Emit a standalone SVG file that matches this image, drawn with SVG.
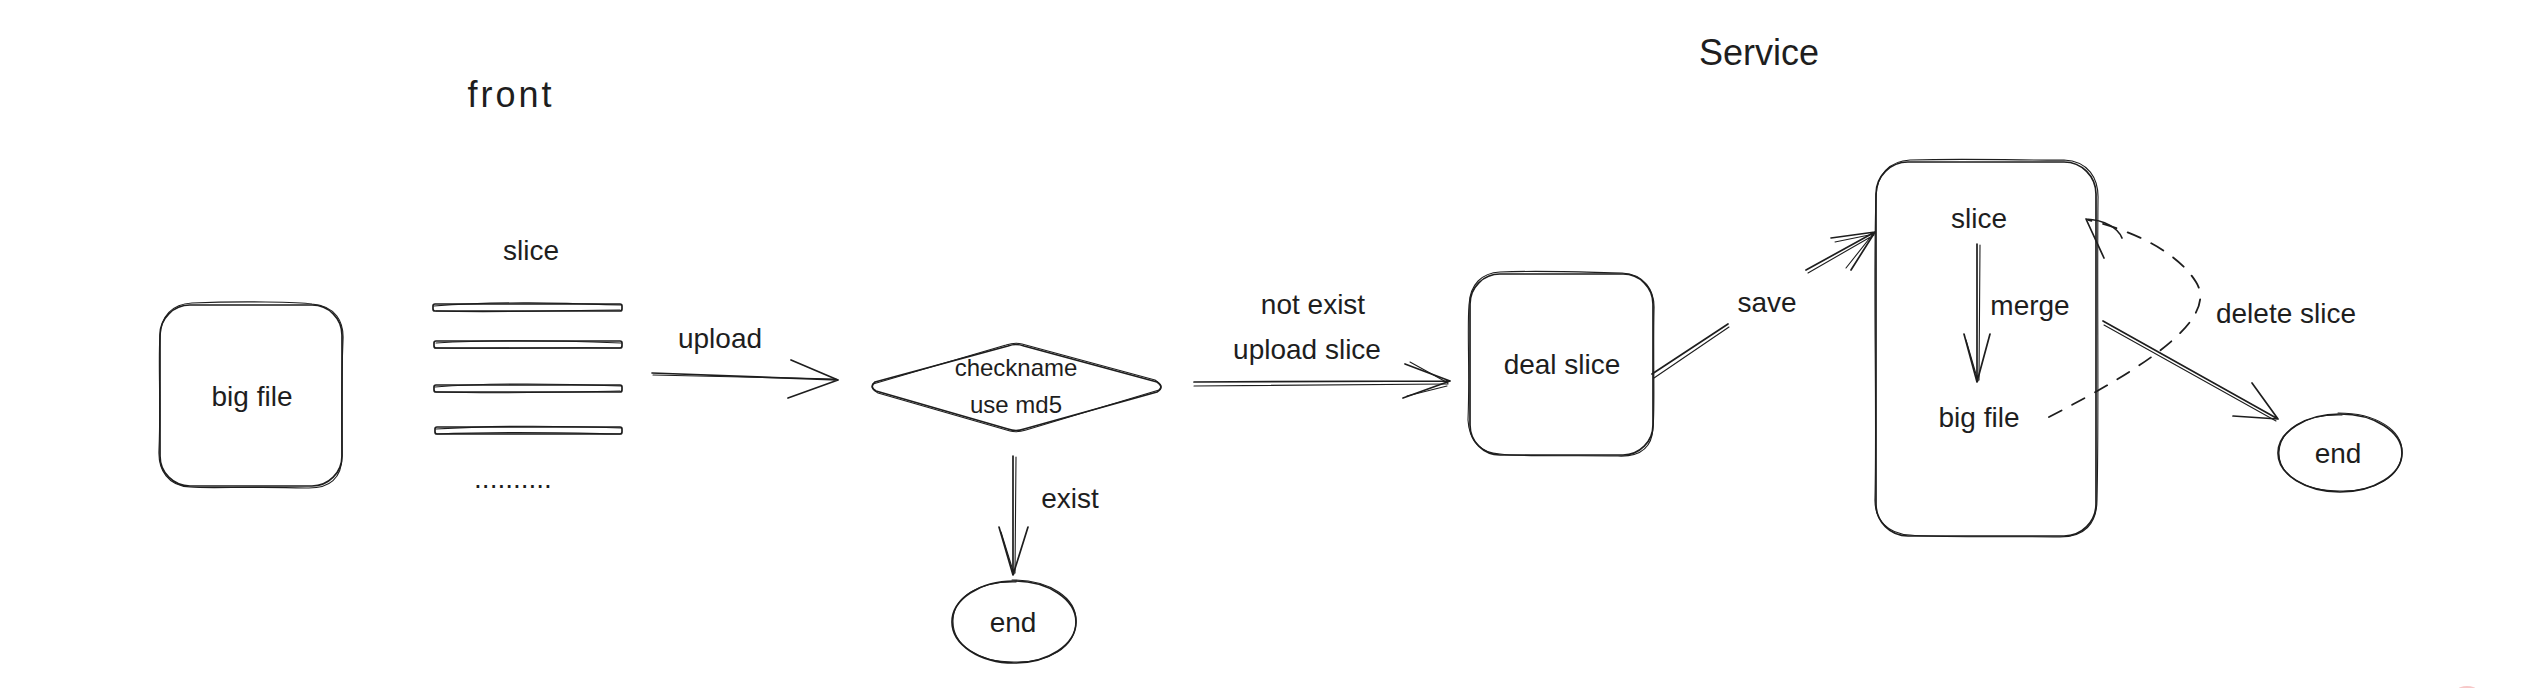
<svg xmlns="http://www.w3.org/2000/svg" width="2546" height="688" viewBox="0 0 2546 688">
<style>
.s{fill:none;stroke:#1e1e1e;stroke-width:1.7;stroke-linecap:round;stroke-linejoin:round}
.w{fill:none;stroke:#1e1e1e;stroke-width:1.1;stroke-linecap:round;stroke-linejoin:round}
.d{fill:none;stroke:#1e1e1e;stroke-width:1.8;stroke-dasharray:14 12;stroke-linecap:round}
text{font-family:"Liberation Sans",Arial,sans-serif;fill:#1e1e1e;text-anchor:middle;dominant-baseline:central}
.t{font-size:28px}
.h{font-size:36px}
.m{font-size:24px}
</style>
<rect width="2546" height="688" fill="#ffffff"/>

<g id="title-front"><text class="h" x="511" y="94" style="letter-spacing:3px">front</text></g>
<g id="title-service"><text class="h" x="1759" y="52">Service</text></g>

<g id="node-bigfile">
<rect class="s" x="160" y="305" width="182" height="181" rx="30"/>
<path class="w" d="M192,303 C240,301 300,302 312,304 C336,306 344,322 343,340 C341,390 342,440 342,456 C342,478 330,489 306,488 C250,486 210,489 190,487 C168,486 158,470 159,450 C161,400 158,360 160,336 C161,316 172,304 192,303 Z"/>
<text class="t" x="252" y="396">big file</text>
</g>

<g id="node-slices">
<text class="t" x="531" y="250">slice</text>
<rect class="s" x="433" y="304" width="189" height="7" rx="2"/>
<path class="w" d="M434,306 C500,301 560,303 621,305 M436,311 C500,313 570,310 620,310"/>
<rect class="s" x="434" y="341" width="188" height="7" rx="2"/>
<path class="w" d="M436,343 C500,339 570,341 621,343 M435,348 C510,349 570,347 620,348"/>
<rect class="s" x="434" y="385" width="188" height="7" rx="2"/>
<path class="w" d="M435,387 C500,382 570,384 621,386 M436,392 C510,394 570,392 620,391"/>
<rect class="s" x="435" y="427" width="187" height="7" rx="2"/>
<path class="w" d="M436,429 C500,425 570,426 621,428 M437,434 C510,431 570,433 620,434"/>
<text class="t" x="513" y="478">..........</text>
</g>

<g id="node-checkname">
<path class="s" d="M875,382 Q869,387 876,391 L1008,429 Q1016,432 1024,429 L1157,392 Q1165,387 1157,382 L1024,346 Q1016,343 1008,346 Z"/>
<path class="w" d="M873,384 Q870,389 878,393 L1010,431 Q1017,433 1026,430 L1159,390 Q1164,386 1155,380 L1022,344 Q1015,342 1006,345 Z"/>
<text class="m" x="1016" y="367">checkname</text>
<text class="m" x="1016" y="404">use md5</text>
</g>

<g id="node-end-left">
<ellipse class="s" cx="1014" cy="622" rx="62" ry="41"/>
<path class="w" d="M1012,580 C1050,580 1077,598 1076,622 C1075,648 1048,663 1014,662 C978,662 952,645 953,620 C954,596 980,581 1016,582"/>
<text class="t" x="1013" y="622">end</text>
</g>

<g id="node-dealslice">
<rect class="s" x="1470" y="274" width="183" height="181" rx="30"/>
<path class="w" d="M1500,272 C1550,270 1600,273 1622,273 C1644,274 1655,290 1654,310 C1653,360 1655,410 1653,428 C1652,448 1640,457 1618,456 C1570,455 1520,457 1500,454 C1480,453 1469,440 1468,420 C1470,370 1467,330 1469,305 C1470,284 1482,273 1500,272 Z"/>
<text class="t" x="1562" y="364">deal slice</text>
</g>

<g id="node-service-box">
<rect class="s" x="1876" y="162" width="220" height="374" rx="32"/>
<path class="w" d="M1910,160 C1980,158 2040,161 2064,160 C2088,161 2099,178 2098,200 C2097,300 2099,420 2097,500 C2097,524 2084,537 2060,537 C1990,536 1940,538 1910,535 C1888,534 1874,520 1875,498 C1877,400 1873,280 1876,196 C1877,174 1890,161 1910,160 Z"/>
<text class="t" x="1979" y="218">slice</text>
<text class="t" x="1979" y="417">big file</text>
</g>

<g id="node-end-right">
<ellipse class="s" cx="2340" cy="453" rx="62" ry="39"/>
<path class="w" d="M2338,413 C2376,413 2403,430 2402,453 C2401,477 2374,492 2340,491 C2304,491 2278,475 2279,452 C2280,429 2306,414 2342,415"/>
<text class="t" x="2338" y="453">end</text>
</g>

<g id="connectors">
<path class="s" d="M652,373 L838,380 M838,380 L791,360 M838,380 L788,398"/>
<path class="w" d="M653,375 L836,379"/>
<text class="t" x="720" y="338">upload</text>
<path class="s" d="M1013,456 L1013,575 M1013,575 L999,527 M1013,575 L1028,527"/>
<path class="w" d="M1016,457 L1015,573 M1014,574 L1001,532"/>
<text class="t" x="1070" y="498">exist</text>
<path class="s" d="M1194,382 L1450,381 M1450,381 L1405,364 M1450,381 L1403,398"/>
<path class="w" d="M1194,386 L1448,384 M1448,383 L1410,362 M1447,386 L1407,396"/>
<text class="t" x="1313" y="304">not exist</text>
<text class="t" x="1307" y="349">upload slice</text>
<path class="s" d="M1652,374 L1728,324 M1806,270 L1875,232 M1875,232 L1831,238 M1875,232 L1851,270"/>
<path class="w" d="M1654,378 L1729,327 M1808,273 L1874,235 M1874,234 L1835,242 M1873,234 L1846,268"/>
<text class="t" x="1767" y="302">save</text>
<path class="s" d="M1977,244 L1977,382 M1977,382 L1964,334 M1977,382 L1990,334"/>
<path class="w" d="M1980,245 L1979,380 M1978,381 L1966,340"/>
<text class="t" x="2030" y="305">merge</text>
<path class="d" d="M2049,417 C2140,370 2220,320 2196,282 C2176,250 2130,230 2088,220"/>
<path class="s" d="M2086,219 C2105,220 2118,228 2122,238 M2086,219 L2104,258"/>
<text class="t" x="2286" y="313">delete slice</text>
<path class="s" d="M2103,321 L2278,419 M2278,419 L2233,416 M2278,419 L2252,383"/>
<path class="w" d="M2104,325 L2276,421"/>
</g>
<ellipse cx="2467" cy="704" rx="18" ry="18" fill="#f2a3a3" opacity="0.6"/>
</svg>
